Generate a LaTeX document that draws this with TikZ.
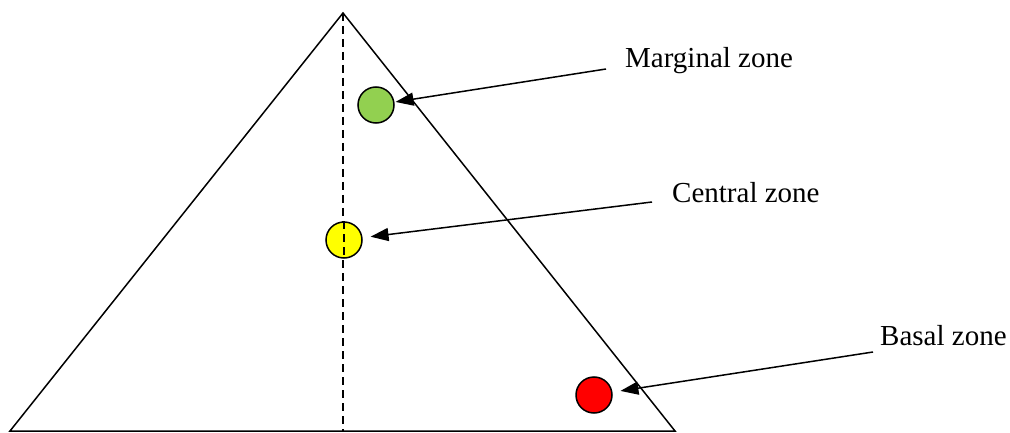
\documentclass[tikz,border=0pt]{standalone}
\usepackage{fontspec}
\setmainfont{Liberation Serif}
\usetikzlibrary{arrows.meta}
\begin{document}
\begin{tikzpicture}[x=1pt,y=-1pt,
  edge/.style={line width=1.5pt, line join=miter},
  zone/.style={circle, draw, line width=1.5pt, minimum size=36pt, inner sep=0pt},
  lbl/.style={anchor=base west, inner sep=0pt, font=\fontsize{29}{34}\selectfont},
  arr/.style={line width=1.5pt, -{Triangle[length=18pt,width=13pt]}}]
\useasboundingbox (0,0) rectangle (1010,433);
\coordinate (apex) at (343,13);
\coordinate (bl) at (10,431);
\coordinate (br) at (675,431);
\coordinate (mid) at (343,431);
\draw[edge] (bl) -- (apex) -- (br) -- cycle;
\draw[line width=1.5pt, dash pattern=on 8pt off 5pt] (apex) -- (mid);
\node[zone, fill={rgb,255:red,146;green,208;blue,80}] (green) at (376,105) {};
\node[zone, fill={rgb,255:red,255;green,255;blue,0}] (yellow) at (344,240) {};
\draw[line width=1.5pt, dash pattern=on 8pt off 5pt] (yellow.north) -- (yellow.south);
\node[zone, fill={rgb,255:red,255;green,0;blue,0}] (red) at (594,395) {};
\node[lbl] (tm) at (625,68) {Marginal zone};
\node[lbl] (tc) at (672,203) {Central zone};
\node[lbl] (tb) at (880,345) {Basal zone};
\coordinate (sm) at (606,69);
\coordinate (sc) at (652,202);
\coordinate (sb) at (873,352);
\draw[arr, shorten >=1pt] (sm) -- (green);
\draw[arr, shorten >=8pt] (sc) -- (yellow);
\draw[arr, shorten >=8pt] (sb) -- (red);
\end{tikzpicture}
\end{document}
